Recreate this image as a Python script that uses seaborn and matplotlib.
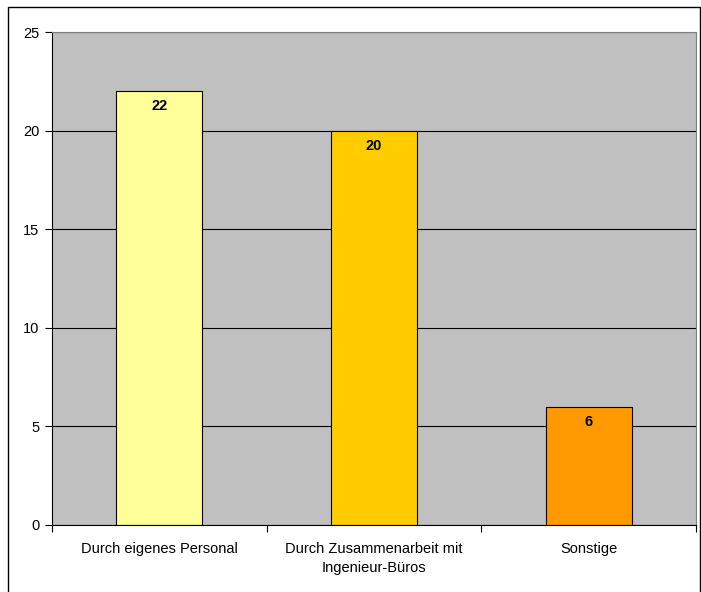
import matplotlib
matplotlib.use("Agg")
import matplotlib.pyplot as plt
import seaborn as sns
import pandas as pd
from matplotlib.patches import Rectangle

categories = ["Durch eigenes Personal", "Durch Zusammenarbeit mit\nIngenieur-Büros", "Sonstige"]
values = [22, 20, 6]
colors = ["#FFFF99", "#FFCC00", "#FF9900"]

df = pd.DataFrame({"cat": categories, "val": values})

sns.set_style("white")
plt.rcParams["font.family"] = ["Liberation Sans", "DejaVu Sans"]
plt.rcParams["text.color"] = "black"
plt.rcParams["xtick.color"] = "black"
plt.rcParams["ytick.color"] = "black"
plt.rcParams["xtick.labelcolor"] = "black"
plt.rcParams["ytick.labelcolor"] = "black"

fig = plt.figure(figsize=(7.01, 5.92), dpi=100)
ax = fig.add_axes([52/701, 1-525/592, (696-52)/701, (525-32)/592])
ax.set_facecolor("#C0C0C0")

sns.barplot(data=df, x="cat", y="val", hue="cat", palette=colors, width=0.4,
            edgecolor="black", linewidth=0.8, legend=False, ax=ax, saturation=1)

ax.set_ylim(0, 25)
ax.set_xlim(-0.5, 2.5)
ax.set_yticks([0, 5, 10, 15, 20, 25])
ax.yaxis.grid(True, color="black", linewidth=0.8)
ax.set_axisbelow(True)
ax.set_xlabel("")
ax.set_ylabel("")

ax.set_xticks([-0.5, 0.5, 1.5, 2.5])
ax.set_xticklabels([])
ax.set_xticks([0, 1, 2], minor=True)
ax.set_xticklabels(categories, minor=True, fontsize=10.5, linespacing=1.45, color="black")
ax.tick_params(axis="x", which="minor", length=0, pad=12)
ax.tick_params(axis="x", which="major", length=5, width=0.8, direction="out", bottom=True)
ax.tick_params(axis="y", length=5, width=0.8, direction="out", left=True, labelsize=10.5, pad=4)

for s in ["left", "bottom"]:
    ax.spines[s].set_color("black")
    ax.spines[s].set_linewidth(0.8)
for s in ["top", "right"]:
    ax.spines[s].set_color("#808080")
    ax.spines[s].set_linewidth(0.8)

for i, v in enumerate(values):
    ax.annotate(str(v), xy=(i, v), xytext=(0, -15), textcoords="offset pixels",
                ha="center", va="center", fontsize=10.5, fontweight="bold", color="black")

fig.patches.append(Rectangle((7.5/701, -0.01), (699.5-7.5)/701, 1-6.5/592+0.01,
                             transform=fig.transFigure, fill=False, edgecolor="black", linewidth=1))

fig.savefig("out.png", dpi=100)
